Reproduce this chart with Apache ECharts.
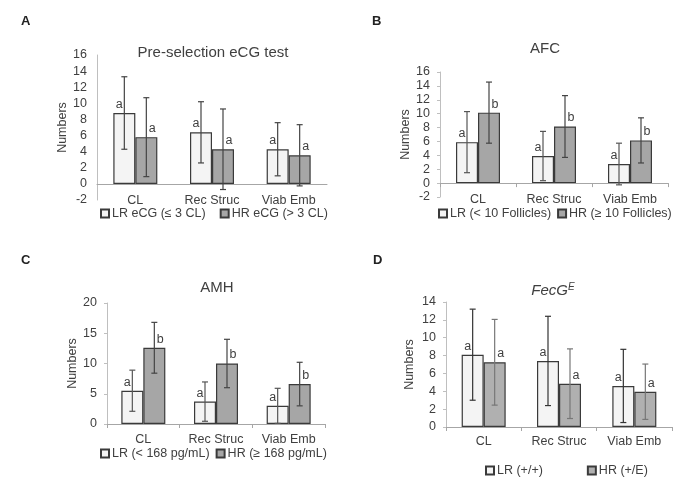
<!DOCTYPE html>
<html>
<head>
<meta charset="utf-8">
<script src="https://cdn.jsdelivr.net/npm/echarts@6/dist/echarts.min.js"></script>
<style>
  html, body { margin: 0; padding: 0; background: #fff; }
  #main { width: 686px; height: 477px; }
</style>
</head>
<body>
<div id="main"></div>
<script>
// categories
var categories = ['CL', 'Rec Struc', 'Viab Emb'];

// A - Pre-selection eCG test
var lrA = [8.8, 6.4, 4.3];
var lrAsd = [4.5, 3.8, 3.3];
var hrA = [5.8, 4.3, 3.55];
var hrAsd = [4.9, 5.0, 3.8];
var lrAtag = ['a', 'a', 'a'];
var hrAtag = ['a', 'a', 'a'];

// B - AFC
var lrB = [5.9, 3.9, 2.75];
var lrBsd = [4.4, 3.55, 3.0];
var hrB = [10.15, 8.15, 6.15];
var hrBsd = [4.4, 4.45, 3.25];
var lrBtag = ['a', 'a', 'a'];
var hrBtag = ['b', 'b', 'b'];

// C - AMH
var lrC = [5.5, 3.7, 3.0];
var lrCsd = [3.4, 3.25, 2.9];
var hrC = [12.6, 10.0, 6.6];
var hrCsd = [4.2, 4.0, 3.6];
var lrCtag = ['a', 'a', 'a'];
var hrCtag = ['b', 'b', 'b'];

// D - FecG(E)
var lrD = [8.1, 7.4, 4.6];
var lrDsd = [5.1, 5.0, 4.1];
var hrD = [7.25, 4.85, 3.95];
var hrDsd = [4.8, 3.9, 3.1];
var lrDtag = ['a', 'a', 'a'];
var hrDtag = ['a', 'a', 'a'];

var FONT = 'Liberation Sans';
var BAR_W = 22;

var myChart = echarts.init(document.getElementById('main'));

function xAxisOf(idx, margin, ticks) {
    return {
        type: 'category',
        gridIndex: idx,
        data: categories,
        axisLine: { onZero: true, lineStyle: { color: '#a6a6a6', width: 1 } },
        axisTick: { show: ticks, length: 4, lineStyle: { color: '#a6a6a6' } },
        axisLabel: { margin: margin, fontFamily: FONT, fontSize: 12.5, color: '#404040' }
    };
}

function yAxisOf(idx, min, max, interval, gap, ticks) {
    return {
        type: 'value',
        gridIndex: idx,
        min: min,
        max: max,
        interval: interval,
        name: 'Numbers',
        nameLocation: 'middle',
        nameGap: gap,
        nameTextStyle: { fontFamily: FONT, fontSize: 12.5, color: '#404040' },
        axisLine: { show: true, lineStyle: { color: '#bfbfbf', width: 1 } },
        axisTick: { show: ticks, length: 3, lineStyle: { color: '#bfbfbf' } },
        splitLine: { show: false },
        axisLabel: { margin: 10, fontFamily: FONT, fontSize: 12.5, color: '#404040' }
    };
}

function barOf(idx, name, values, tags, fill, dx) {
    return {
        type: 'bar',
        name: name,
        xAxisIndex: idx,
        yAxisIndex: idx,
        data: values,
        barWidth: BAR_W,
        barGap: '0%',
        itemStyle: { color: fill, borderColor: '#3a3a3a', borderWidth: 1.2 },
        label: {
            show: true,
            position: 'top',
            distance: 2,
            offset: [dx, 0],
            fontFamily: FONT,
            fontSize: 12.5,
            color: '#404040',
            formatter: function (p) { return tags[p.dataIndex]; }
        }
    };
}

function errOf(idx, means, sds, side, color) {
    return {
        type: 'custom',
        xAxisIndex: idx,
        yAxisIndex: idx,
        z: 5,
        silent: true,
        data: means.map(function (m, i) { return [i, m - sds[i], m + sds[i]]; }),
        renderItem: function (params, api) {
            var lo = api.coord([api.value(0), api.value(1)]);
            var hi = api.coord([api.value(0), api.value(2)]);
            var x = lo[0] + side * BAR_W / 2;
            var st = { stroke: color, lineWidth: 1.2 };
            return {
                type: 'group',
                children: [
                    { type: 'line', shape: { x1: x, y1: lo[1], x2: x, y2: hi[1] }, style: st },
                    { type: 'line', shape: { x1: x - 3, y1: lo[1], x2: x + 3, y2: lo[1] }, style: st },
                    { type: 'line', shape: { x1: x - 3, y1: hi[1], x2: x + 3, y2: hi[1] }, style: st }
                ]
            };
        }
    };
}

function legendOf(names, left, top, gap) {
    return {
        data: names,
        left: left,
        top: top,
        itemWidth: 8,
        itemHeight: 8,
        itemGap: gap,
        icon: 'rect',
        padding: 0,
        textStyle: { fontFamily: FONT, fontSize: 12.5, color: '#404040', padding: [0, 0, 0, -2] }
    };
}

var titleStyle = { fontFamily: FONT, fontSize: 15, fontWeight: 'normal', color: '#404040' };

var LIGHT = '#f4f4f4';
var DARK = '#a6a6a6';

var option = {
    animation: false,
    backgroundColor: '#fff',
    title: [
        { text: 'Pre-selection eCG test', left: 208, top: 40, textAlign: 'center', textStyle: titleStyle },
        { text: 'AFC', left: 540, top: 36, textAlign: 'center', textStyle: titleStyle },
        { text: 'AMH', left: 212, top: 275, textAlign: 'center', textStyle: titleStyle },
        {
            text: '{i|FecG}{s|E}', left: 548, top: 277, textAlign: 'center',
            textStyle: {
                fontFamily: FONT, fontSize: 15, fontWeight: 'normal', color: '#404040',
                rich: {
                    i: { fontFamily: FONT, fontSize: 15, fontWeight: 'normal', fontStyle: 'italic', color: '#404040' },
                    s: { fontFamily: FONT, fontSize: 10, fontWeight: 'normal', fontStyle: 'italic', color: '#404040', verticalAlign: 'top', padding: [0, 0, 7, 0] }
                }
            }
        }
    ],
    graphic: [
        { type: 'text', x: 21, y: 21.5, style: { text: 'A', fontFamily: FONT, fontSize: 13, fontWeight: 'bold', fill: '#222', verticalAlign: 'middle' } },
        { type: 'text', x: 372, y: 21, style: { text: 'B', fontFamily: FONT, fontSize: 13, fontWeight: 'bold', fill: '#222', verticalAlign: 'middle' } },
        { type: 'text', x: 21, y: 260.5, style: { text: 'C', fontFamily: FONT, fontSize: 13, fontWeight: 'bold', fill: '#222', verticalAlign: 'middle' } },
        { type: 'text', x: 373, y: 260, style: { text: 'D', fontFamily: FONT, fontSize: 13, fontWeight: 'bold', fill: '#222', verticalAlign: 'middle' } }
    ],
    legend: [
        legendOf(['LR eCG (≤ 3 CL)', 'HR eCG (> 3 CL)'], 100, 207, 14),
        legendOf(['LR (< 10 Follicles)', 'HR (≥ 10 Follicles)'], 438, 207, 6),
        legendOf(['LR (< 168 pg/mL)', 'HR (≥ 168 pg/mL)'], 100, 447, 6),
        legendOf(['LR (+/+)', 'HR (+/E)'], 485, 464, 44)
    ],
    grid: [
        { left: 97, top: 55, width: 230, height: 145 },
        { left: 440, top: 72, width: 228, height: 125 },
        { left: 107, top: 303, width: 218, height: 121 },
        { left: 446, top: 302, width: 226, height: 125 }
    ],
    xAxis: [
        xAxisOf(0, -6, false),
        xAxisOf(1, -4, true),
        xAxisOf(2, 9, true),
        xAxisOf(3, 8, true)
    ],
    yAxis: [
        yAxisOf(0, -2, 16, 2, 28, false),
        yAxisOf(1, -2, 16, 2, 28, true),
        yAxisOf(2, 0, 20, 5, 28, true),
        yAxisOf(3, 0, 14, 2, 30, true)
    ],
    series: [
        barOf(0, 'LR eCG (≤ 3 CL)', lrA, lrAtag, LIGHT, -5),
        barOf(0, 'HR eCG (> 3 CL)', hrA, hrAtag, DARK, 6),
        errOf(0, lrA, lrAsd, -1, '#444'),
        errOf(0, hrA, hrAsd, 1, '#444'),

        barOf(1, 'LR (< 10 Follicles)', lrB, lrBtag, LIGHT, -5),
        barOf(1, 'HR (≥ 10 Follicles)', hrB, hrBtag, DARK, 6),
        errOf(1, lrB, lrBsd, -1, '#555'),
        errOf(1, hrB, hrBsd, 1, '#444'),

        barOf(2, 'LR (< 168 pg/mL)', lrC, lrCtag, LIGHT, -5),
        barOf(2, 'HR (≥ 168 pg/mL)', hrC, hrCtag, DARK, 6),
        errOf(2, lrC, lrCsd, -1, '#555'),
        errOf(2, hrC, hrCsd, 1, '#444'),

        barOf(3, 'LR (+/+)', lrD, lrDtag, LIGHT, -5),
        barOf(3, 'HR (+/E)', hrD, hrDtag, '#b0b0b0', 6),
        errOf(3, lrD, lrDsd, -1, '#333'),
        errOf(3, hrD, hrDsd, 1, '#777')
    ]
};

myChart.setOption(option);
</script>
</body>
</html>
